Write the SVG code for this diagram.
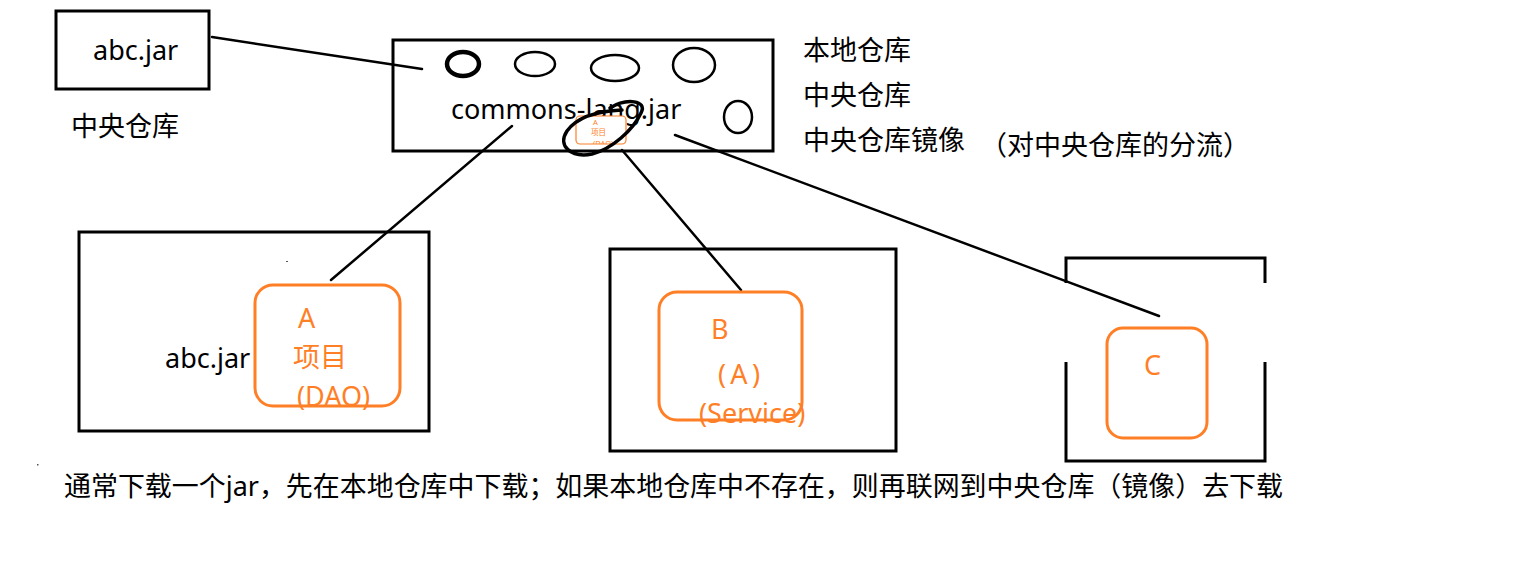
<svg xmlns="http://www.w3.org/2000/svg" width="1524" height="579" viewBox="0 0 1524 579">
  <style>
    .box { fill: none; stroke: #000; stroke-width: 3; }
    .obox { fill: none; stroke: #FF7F27; stroke-width: 3; }
    .conn { stroke: #000; stroke-width: 2.5; fill: none; stroke-linecap: round; }
    .t { font-family: "Noto Sans", "Noto Sans CJK SC", sans-serif; font-size: 27px; fill: #000; }
    .ot { font-family: "Noto Sans", "Noto Sans CJK SC", sans-serif; font-size: 27px; fill: #FF7F27; }
    .ell { fill: none; stroke: #000; stroke-width: 2.5; }
    .bold { stroke-width: 4.5; }
    .tiny { font-family: "Noto Sans", "Noto Sans CJK SC", sans-serif; font-size: 7.5px; fill: #FF7F27; }
  </style>
  <defs>
    <clipPath id="thumbClip"><rect x="576" y="116" width="50" height="28" rx="4"/></clipPath>
  </defs>
  <rect width="1524" height="579" fill="#fff"/>

  <g id="connectors">
    <line class="conn" x1="212" y1="37" x2="422" y2="69"/>
    <line class="conn" x1="512" y1="126" x2="331" y2="280"/>
    <line class="conn" x1="622" y1="150" x2="741" y2="290"/>
    <line class="conn" x1="675" y1="135" x2="1159" y2="316"/>
  </g>

  <g id="central-abc">
    <rect class="box" x="56" y="11" width="153" height="78"/>
    <text class="t" x="93" y="60">abc.jar</text>
    <text class="t" x="71" y="136">中央仓库</text>
  </g>

  <g id="local-repo">
    <rect class="box" x="393" y="40" width="380" height="111"/>
    <ellipse class="ell bold" cx="463" cy="64" rx="16" ry="12"/>
    <ellipse class="ell" cx="535" cy="64" rx="20" ry="12"/>
    <ellipse class="ell" cx="615" cy="68" rx="24" ry="13"/>
    <ellipse class="ell" cx="694" cy="65" rx="21" ry="17"/>
    <ellipse class="ell" cx="738" cy="117" rx="14" ry="16"/>
    <text class="t" x="451" y="119">commons-lang.jar</text>
    <g id="thumb">
      <rect x="576" y="116" width="50" height="28" rx="4" fill="#fff" stroke="#FF7F27" stroke-width="1.2"/>
      <g clip-path="url(#thumbClip)">
        <text class="tiny" x="593" y="125">A</text>
        <text class="tiny" x="591" y="135">项目</text>
        <text class="tiny" x="593" y="146">(DAO)</text>
      </g>
    </g>
    <path d="M 610 108 C 626 98, 648 100, 641 113 C 633 130, 612 149, 592 154 C 571 158, 557 146, 567 131 C 577 117, 598 111, 622 110" fill="none" stroke="#000" stroke-width="3.5" stroke-linecap="round"/>
  </g>

  <g id="repo-labels">
    <text class="t" x="803" y="60">本地仓库</text>
    <text class="t" x="803" y="105">中央仓库</text>
    <text class="t" x="803" y="150">中央仓库镜像</text>
    <text class="t" x="980" y="155">（对中央仓库的分流）</text>
  </g>

  <g id="project-a">
    <rect class="box" x="79" y="232" width="350" height="199"/>
    <rect x="286" y="261" width="2" height="1" fill="#555"/>
    <text class="t" x="165" y="368">abc.jar</text>
    <rect class="obox" x="255" y="285" width="145" height="121" rx="18"/>
    <text class="ot" x="298" y="328">A</text>
    <text class="ot" x="293" y="367">项目</text>
    <text class="ot" x="297" y="406">(DAO)</text>
  </g>

  <g id="project-b">
    <rect class="box" x="610" y="249" width="286" height="202"/>
    <rect class="obox" x="659" y="292" width="143" height="128" rx="18"/>
    <text class="ot" x="711" y="339">B</text>
    <text class="ot" x="718" y="384" textLength="42" lengthAdjust="spacing">(A)</text>
    <text class="ot" x="699" y="423">(Service)</text>
  </g>

  <g id="project-c">
    <path class="box" d="M 1066 283 V 258 H 1265 V 283 M 1066 362 V 461 H 1265 V 362" stroke-linecap="butt"/>
    <rect class="obox" x="1107" y="328" width="100" height="110" rx="16"/>
    <text class="ot" x="1144" y="375">C</text>
  </g>

  <g id="note">
    <rect x="37" y="464" width="1.5" height="1.5" fill="#555"/>
    <text class="t" x="64" y="496" textLength="1219" lengthAdjust="spacingAndGlyphs">通常下载一个jar，先在本地仓库中下载；如果本地仓库中不存在，则再联网到中央仓库（镜像）去下载</text>
  </g>
</svg>
